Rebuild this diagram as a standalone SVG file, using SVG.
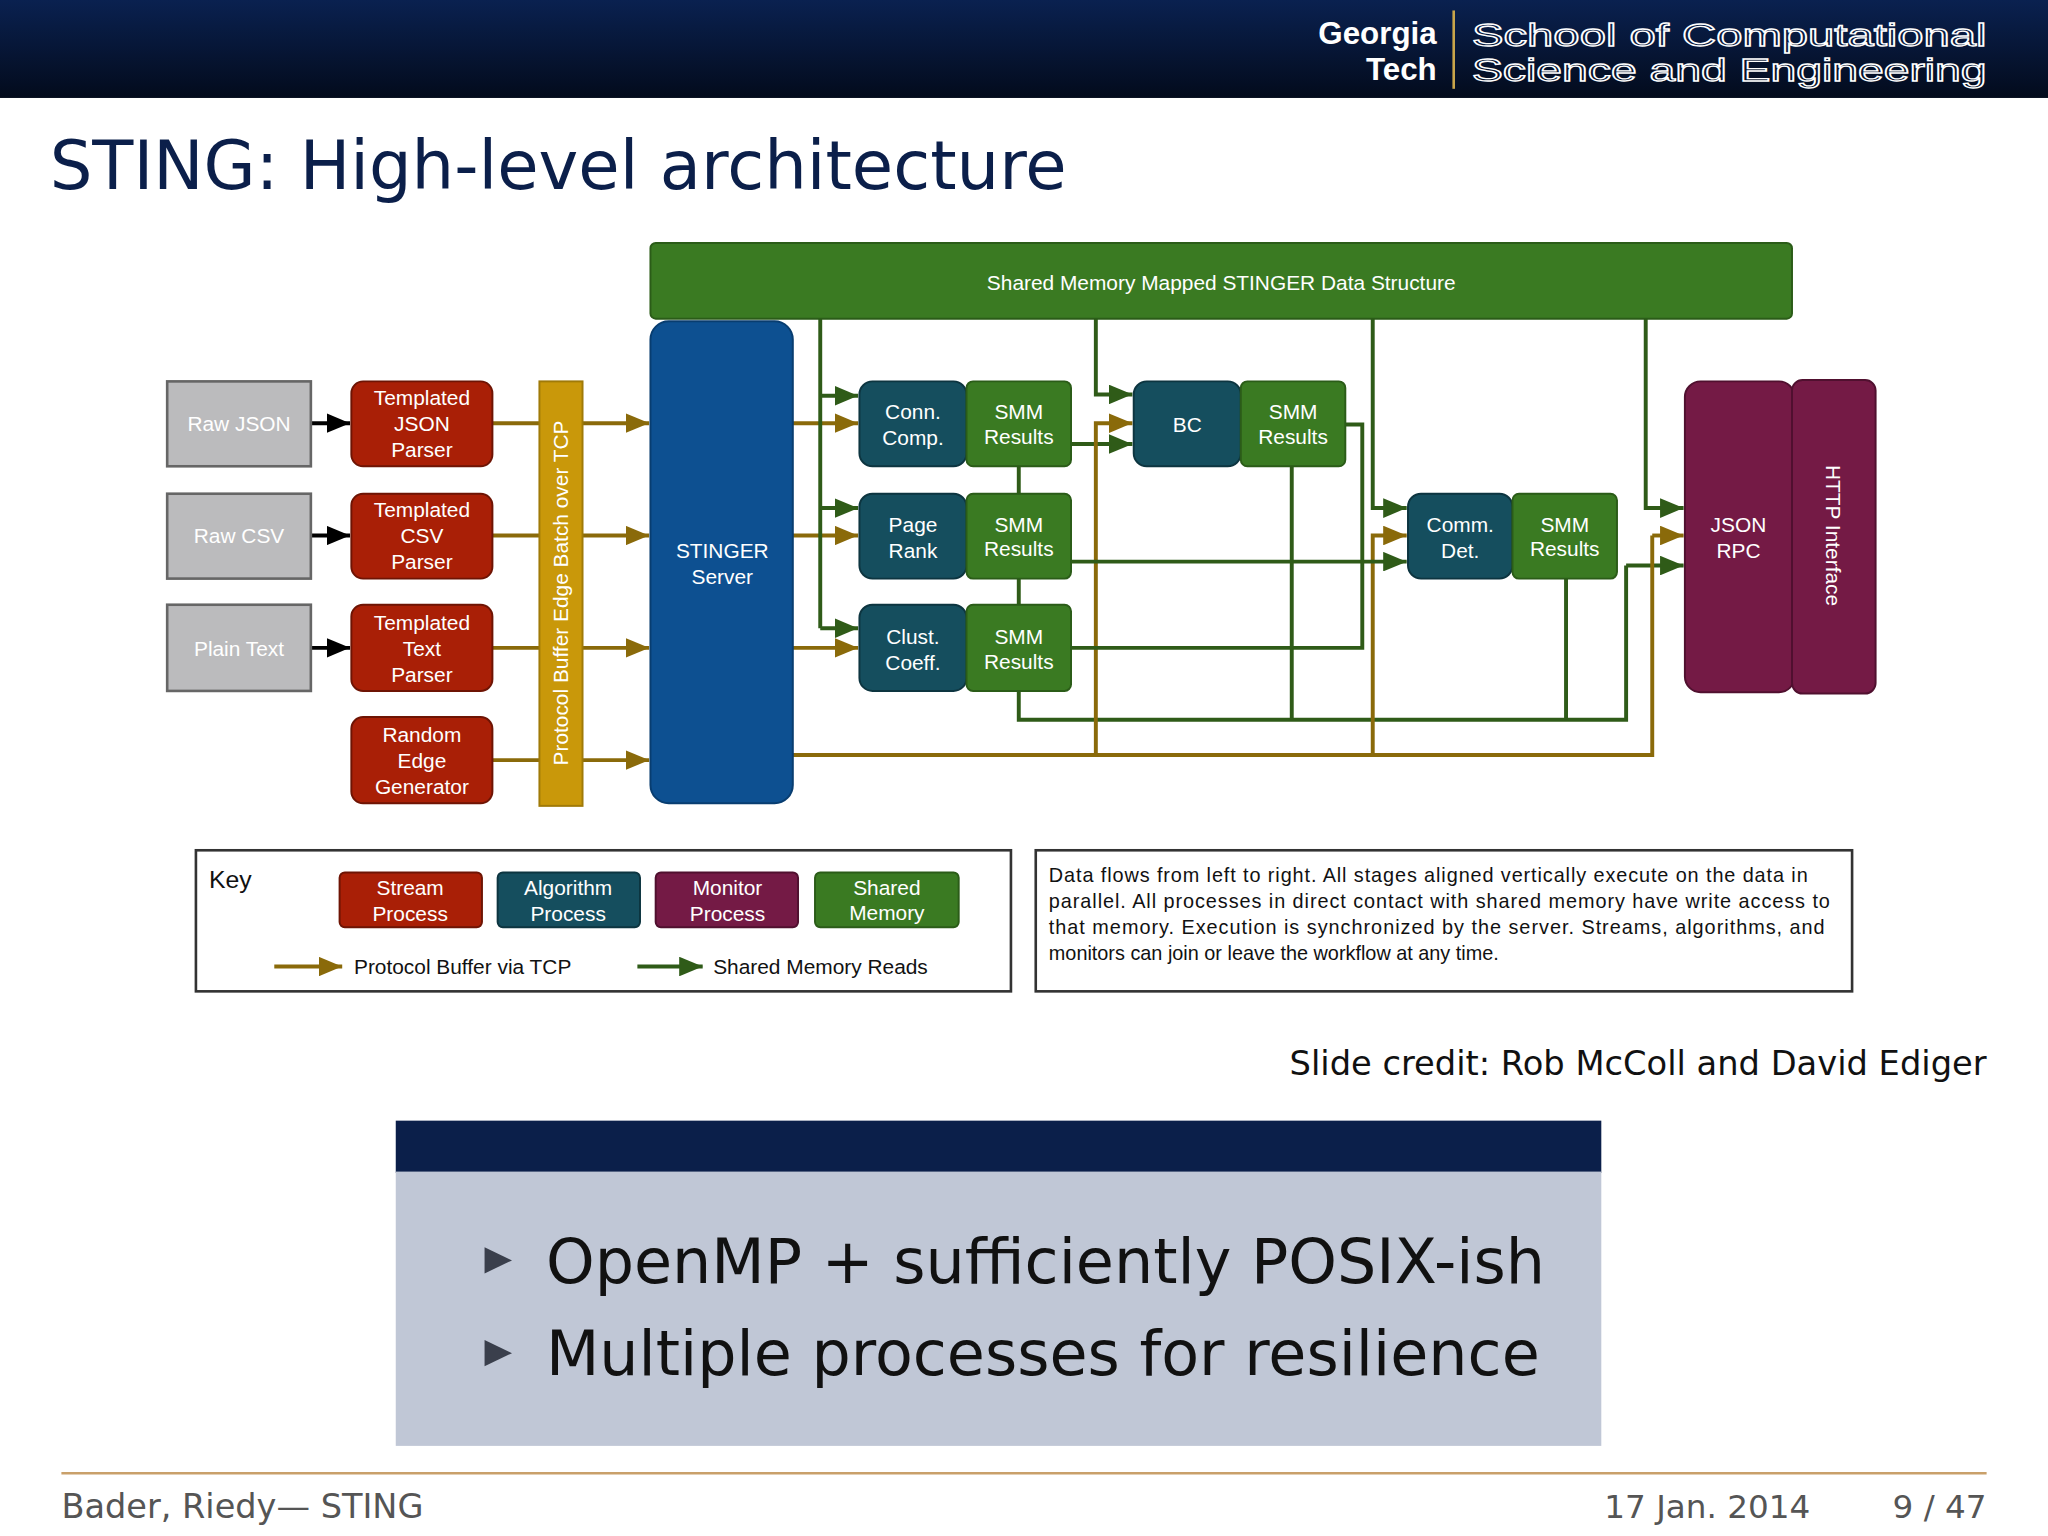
<svg xmlns="http://www.w3.org/2000/svg" width="2048" height="1536" viewBox="0 0 2048 1536">
<defs>
<linearGradient id="hdr" x1="0" y1="0" x2="0" y2="1"><stop offset="0" stop-color="#0a2150"/><stop offset="1" stop-color="#030b1c"/></linearGradient>
<marker id="ag" viewBox="0 0 10 10" refX="10" refY="5" markerWidth="18" markerHeight="15" markerUnits="userSpaceOnUse" orient="auto" preserveAspectRatio="none"><path d="M0,0 L10,5 L0,10 z" fill="#2f5b18"/></marker>
<marker id="ao" viewBox="0 0 10 10" refX="10" refY="5" markerWidth="18" markerHeight="15" markerUnits="userSpaceOnUse" orient="auto" preserveAspectRatio="none"><path d="M0,0 L10,5 L0,10 z" fill="#8a6a0a"/></marker>
<marker id="ak" viewBox="0 0 10 10" refX="10" refY="5" markerWidth="18" markerHeight="15" markerUnits="userSpaceOnUse" orient="auto" preserveAspectRatio="none"><path d="M0,0 L10,5 L0,10 z" fill="#000"/></marker>
<style>
.t{font-family:"Liberation Sans",Arial,sans-serif;fill:#fff;font-size:16px;text-anchor:middle}
.d{font-family:"DejaVu Sans","Liberation Sans",sans-serif}
.s{font-family:"Liberation Sans",Arial,sans-serif}
.grey{fill:#bbbbbd;stroke:#666;stroke-width:2}
.red{fill:#a91f06;stroke:#6e1404;stroke-width:1.5}
.alg{fill:#154e5e;stroke:#0d3540;stroke-width:1.5}
.smm{fill:#3a7a22;stroke:#2b5c18;stroke-width:1.5}
.mon{fill:#741a45;stroke:#50102f;stroke-width:1.5}
.g{stroke:#2f5b18;stroke-width:3;fill:none}
.o{stroke:#8a6a0a;stroke-width:3;fill:none}
.k{stroke:#000;stroke-width:3;fill:none}
</style>
</defs>
<g transform="scale(1.306122)">
<rect width="1568" height="1176" fill="#fff"/>
<rect width="1568" height="75" fill="url(#hdr)"/>
<g id="logo">
<text x="1100" y="34" class="s" font-weight="bold" font-size="24" fill="#fff" text-anchor="end">Georgia</text>
<text x="1100" y="61" class="s" font-weight="bold" font-size="24" fill="#fff" text-anchor="end">Tech</text>
<line x1="1113" y1="8" x2="1113" y2="68" stroke="#c9a54a" stroke-width="2"/>
<text x="1127" y="35" class="s" font-size="24" fill="none" stroke="#fff" stroke-width="1" textLength="394" lengthAdjust="spacingAndGlyphs">School of Computational</text>
<text x="1127" y="62" class="s" font-size="24" fill="none" stroke="#fff" stroke-width="1" textLength="394" lengthAdjust="spacingAndGlyphs">Science and Engineering</text>
</g>
<text x="38" y="145" class="d" font-size="51.5" fill="#0b1f4a">STING: High-level architecture</text>

<g id="connectors">
<path class="k" marker-end="url(#ak)" d="M238,324H268"/>
<path class="k" marker-end="url(#ak)" d="M238,410H268"/>
<path class="k" marker-end="url(#ak)" d="M238,496H268"/>
<path class="o" marker-end="url(#ao)" d="M377,324H497"/>
<path class="o" marker-end="url(#ao)" d="M377,410H497"/>
<path class="o" marker-end="url(#ao)" d="M377,496H497"/>
<path class="o" marker-end="url(#ao)" d="M377,582H497"/>
<path class="o" marker-end="url(#ao)" d="M607,324H657"/>
<path class="o" marker-end="url(#ao)" d="M607,410H657"/>
<path class="o" marker-end="url(#ao)" d="M607,496H657"/>
<path class="g" d="M628,244V481"/>
<path class="g" marker-end="url(#ag)" d="M628,303H657"/>
<path class="g" marker-end="url(#ag)" d="M628,389H657"/>
<path class="g" marker-end="url(#ag)" d="M628,481H657"/>
<path class="g" d="M780,357V378M780,443V463M780,529V551H1245V433"/>
<path class="g" marker-end="url(#ag)" d="M1245,433H1289"/>
<path class="g" marker-end="url(#ag)" d="M839,244V302H867"/>
<path class="g" marker-end="url(#ag)" d="M820,340H867"/>
<path class="o" d="M607,578H1265V410"/>
<path class="o" marker-end="url(#ao)" d="M839,578V324H867"/>
<path class="o" marker-end="url(#ao)" d="M1051,578V410H1077"/>
<path class="o" marker-end="url(#ao)" d="M1265,410H1289"/>
<path class="g" marker-end="url(#ag)" d="M1051,244V389H1077"/>
<path class="g" marker-end="url(#ag)" d="M820,430H1077"/>
<path class="g" d="M1030,325H1043V496H820"/>
<path class="g" d="M989,357V551M1199,443V551"/>
<path class="g" marker-end="url(#ag)" d="M1260,244V389H1289"/>
</g>

<g id="shared-memory"><rect x="498" y="186" width="874" height="58" rx="4" fill="#3a7a22" stroke="#2b5c18" stroke-width="1.5"/><text class="t" x="935" y="222">Shared Memory Mapped STINGER Data Structure</text></g>
<g id="server"><rect x="498" y="246" width="109" height="369" rx="14" fill="#0d5091" stroke="#083d70" stroke-width="1.5"/><text class="t" x="553" y="427">STINGER</text><text class="t" x="553" y="447">Server</text></g>

<g id="raw-json"><rect class="grey" x="128" y="292" width="110" height="65"/><text class="t" x="183" y="330">Raw JSON</text></g>
<g id="raw-csv"><rect class="grey" x="128" y="378" width="110" height="65"/><text class="t" x="183" y="416">Raw CSV</text></g>
<g id="plain-text"><rect class="grey" x="128" y="463" width="110" height="66"/><text class="t" x="183" y="502">Plain Text</text></g>

<g id="json-parser"><rect class="red" x="269" y="292" width="108" height="65" rx="9"/><text class="t" x="323" y="310">Templated</text><text class="t" x="323" y="330">JSON</text><text class="t" x="323" y="350">Parser</text></g>
<g id="csv-parser"><rect class="red" x="269" y="378" width="108" height="65" rx="9"/><text class="t" x="323" y="396">Templated</text><text class="t" x="323" y="416">CSV</text><text class="t" x="323" y="436">Parser</text></g>
<g id="text-parser"><rect class="red" x="269" y="463" width="108" height="66" rx="9"/><text class="t" x="323" y="482">Templated</text><text class="t" x="323" y="502">Text</text><text class="t" x="323" y="522">Parser</text></g>
<g id="random-gen"><rect class="red" x="269" y="549" width="108" height="66" rx="9"/><text class="t" x="323" y="568">Random</text><text class="t" x="323" y="588">Edge</text><text class="t" x="323" y="608">Generator</text></g>

<g id="protobuf"><rect x="413" y="292" width="33" height="325" fill="#c9980a" stroke="#a07a08" stroke-width="1.5"/><text class="t" transform="translate(435,454) rotate(-90)">Protocol Buffer Edge Batch over TCP</text></g>

<g id="conn-comp"><rect class="alg" x="658" y="292" width="82" height="65" rx="10"/><text class="t" x="699" y="321">Conn.</text><text class="t" x="699" y="341">Comp.</text><rect class="smm" x="740" y="292" width="80" height="65" rx="5"/><text class="t" x="780" y="321">SMM</text><text class="t" x="780" y="340">Results</text></g>
<g id="page-rank"><rect class="alg" x="658" y="378" width="82" height="65" rx="10"/><text class="t" x="699" y="407">Page</text><text class="t" x="699" y="427">Rank</text><rect class="smm" x="740" y="378" width="80" height="65" rx="5"/><text class="t" x="780" y="407">SMM</text><text class="t" x="780" y="426">Results</text></g>
<g id="clust-coeff"><rect class="alg" x="658" y="463" width="82" height="66" rx="10"/><text class="t" x="699" y="493">Clust.</text><text class="t" x="699" y="513">Coeff.</text><rect class="smm" x="740" y="463" width="80" height="66" rx="5"/><text class="t" x="780" y="493">SMM</text><text class="t" x="780" y="512">Results</text></g>
<g id="bc"><rect class="alg" x="868" y="292" width="82" height="65" rx="10"/><text class="t" x="909" y="331">BC</text><rect class="smm" x="950" y="292" width="80" height="65" rx="5"/><text class="t" x="990" y="321">SMM</text><text class="t" x="990" y="340">Results</text></g>
<g id="comm-det"><rect class="alg" x="1078" y="378" width="80" height="65" rx="10"/><text class="t" x="1118" y="407">Comm.</text><text class="t" x="1118" y="427">Det.</text><rect class="smm" x="1158" y="378" width="80" height="65" rx="5"/><text class="t" x="1198" y="407">SMM</text><text class="t" x="1198" y="426">Results</text></g>
<g id="json-rpc"><rect class="mon" x="1290" y="292" width="84" height="238" rx="12"/><text class="t" x="1331" y="407">JSON</text><text class="t" x="1331" y="427">RPC</text></g>
<g id="http"><rect class="mon" x="1372" y="291" width="64" height="240" rx="8"/><text class="t" transform="translate(1398,410) rotate(90)">HTTP Interface</text></g>

<g id="key">
<rect x="150" y="651" width="624" height="108" fill="#fff" stroke="#333" stroke-width="2"/>
<text x="160" y="680" class="s" font-size="19" fill="#111">Key</text>
<rect class="red" x="260" y="668" width="109" height="42" rx="4"/><text class="t" x="314" y="685">Stream</text><text class="t" x="314" y="705">Process</text>
<rect class="alg" x="381" y="668" width="109" height="42" rx="4"/><text class="t" x="435" y="685">Algorithm</text><text class="t" x="435" y="705">Process</text>
<rect class="mon" x="502" y="668" width="109" height="42" rx="4"/><text class="t" x="557" y="685">Monitor</text><text class="t" x="557" y="705">Process</text>
<rect class="smm" x="624" y="668" width="110" height="42" rx="4"/><text class="t" x="679" y="685">Shared</text><text class="t" x="679" y="704">Memory</text>
<path class="o" marker-end="url(#ao)" d="M210,740H262"/>
<text x="271" y="746" class="s" font-size="16" fill="#111">Protocol Buffer via TCP</text>
<path class="g" marker-end="url(#ag)" d="M488,740H538"/>
<text x="546" y="746" class="s" font-size="16" fill="#111">Shared Memory Reads</text>
</g>
<g id="note" class="s" font-size="15.2" fill="#111">
<rect x="793" y="651" width="625" height="108" fill="#fff" stroke="#333" stroke-width="2"/>
<text x="803" y="675" textLength="581" lengthAdjust="spacing">Data flows from left to right.  All stages aligned vertically execute on the data in</text>
<text x="803" y="695" textLength="598" lengthAdjust="spacing">parallel.  All processes in direct contact with shared memory have write access to</text>
<text x="803" y="715" textLength="594" lengthAdjust="spacing">that memory.  Execution is synchronized by the server. Streams, algorithms, and</text>
<text x="803" y="735">monitors can join or leave the workflow at any time.</text>
</g>
<text x="1521" y="823" class="d" font-size="25.8" fill="#111" text-anchor="end">Slide credit: Rob McColl and David Ediger</text>

<g id="block">
<rect x="303" y="858" width="923" height="40" fill="#0b1f4a"/>
<rect x="303" y="897" width="923" height="210" fill="#c0c7d6"/>
<path d="M371,955L392,965L371,975z" fill="#3a3f4c"/>
<path d="M371,1026L392,1036L371,1046z" fill="#3a3f4c"/>
<text x="418" y="982" class="d" font-size="47.4" fill="#111">OpenMP + sufficiently POSIX-ish</text>
<text x="418" y="1053" class="d" font-size="47.4" fill="#111">Multiple processes for resilience</text>
</g>
<line x1="47" y1="1128" x2="1521" y2="1128" stroke="#c9a06a" stroke-width="2"/>
<text x="47" y="1162" class="d" font-size="25.7" fill="#555">Bader, Riedy— STING</text>
<text x="1386" y="1162" class="d" font-size="25" fill="#555" text-anchor="end">17 Jan. 2014</text>
<text x="1521" y="1162" class="d" font-size="25" fill="#555" text-anchor="end">9 / 47</text>
</g>
</svg>
